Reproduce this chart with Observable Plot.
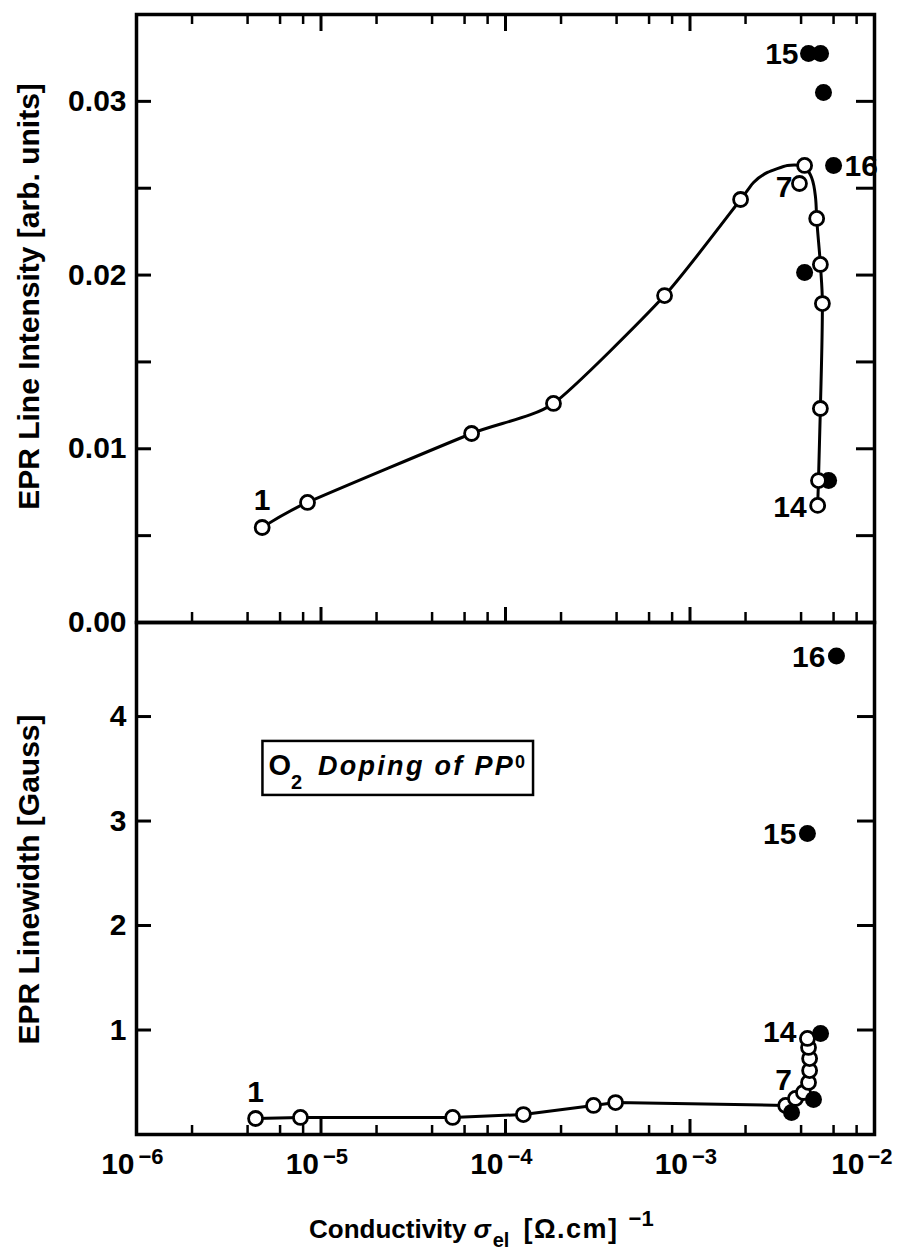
<!DOCTYPE html>
<html><head><meta charset="utf-8">
<script src="https://cdn.jsdelivr.net/npm/d3@7"></script>
<script src="https://cdn.jsdelivr.net/npm/@observablehq/plot@0.6"></script>
<style>
body{margin:0;background:#fff;}
#wrap{position:relative;width:899px;height:1258px;overflow:hidden;font-family:"Liberation Sans",Arial,sans-serif;background:#fff;}
#wrap svg{position:absolute;left:0;overflow:visible;}
#xtitle{position:absolute;left:309px;top:1214px;line-height:30px;text-align:left;font-size:26px;font-weight:bold;color:#000;white-space:nowrap;}
#xtitle i{margin-left:7px;}
#xtitle .sub{position:relative;top:9px;font-size:20px;margin-left:2px;margin-right:14px;}
#xtitle .br{font-size:27px;letter-spacing:1.5px;}
#xtitle .sup{position:relative;top:-12px;font-size:22px;margin-left:10px;}
</style></head><body><div id="wrap"><div id="xtitle">Conductivity<i>σ</i><span class="sub">el</span><span class="br">[Ω.cm]</span><span class="sup">−1</span></div></div>
<script>
// ---------- data ----------
// Top panel: EPR line intensity, open circles 1..14
const topOpenX = [4.8e-6, 8.45e-6, 6.55e-5, 1.82e-4, 7.28e-4, 1.88e-3, 3.92e-3, 4.18e-3, 4.86e-3, 5.09e-3, 5.22e-3, 5.09e-3, 4.97e-3, 4.92e-3];
const topOpenY = [0.00547, 0.00691, 0.01088, 0.01261, 0.01882, 0.02435, 0.02527, 0.02631, 0.02326, 0.02061, 0.01836, 0.01232, 0.00817, 0.00674];
// Top panel: filled circles
const topFilledX = [4.39e-3, 5.10e-3, 5.29e-3, 6.0e-3, 4.18e-3, 5.64e-3];
const topFilledY = [0.03276, 0.03276, 0.03051, 0.02631, 0.02015, 0.00817];
// Top panel: drawn guide curve — rising branch (points 1–6, then the rounded top up to point 8)
const topRiseX = [4.8e-6, 8.45e-6, 6.55e-5, 1.82e-4, 7.28e-4, 1.88e-3, 2.21e-3, 2.63e-3, 3.37e-3, 4.18e-3];
const topRiseY = [0.00547, 0.00691, 0.01088, 0.01261, 0.01882, 0.02435, 0.02533, 0.02591, 0.02631, 0.02631];
// falling branch (from the peak down to point 14)
const topFallX = [4.18e-3, 4.56e-3, 4.79e-3, 4.86e-3, 5.09e-3, 5.22e-3, 5.09e-3, 4.97e-3, 4.92e-3];
const topFallY = [0.02631, 0.02562, 0.02447, 0.02326, 0.02061, 0.01836, 0.01232, 0.00817, 0.00674];

// Bottom panel: EPR linewidth, open circles 1..14
const botOpenX = [4.42e-6, 7.74e-6, 5.17e-5, 1.25e-4, 3.0e-4, 3.95e-4, 3.30e-3, 3.73e-3, 4.12e-3, 4.39e-3, 4.45e-3, 4.45e-3, 4.39e-3, 4.33e-3];
const botOpenY = [0.153, 0.163, 0.163, 0.191, 0.278, 0.306, 0.278, 0.345, 0.402, 0.498, 0.612, 0.727, 0.833, 0.919];
// Bottom panel: filled circles (16, 15, near 14, and two under the cluster)
const botFilledX = [6.22e-3, 4.33e-3, 5.10e-3, 3.55e-3, 4.67e-3];
const botFilledY = [4.58, 2.88, 0.967, 0.211, 0.335];

// point labels
const topLabelText = ["1", "7", "14", "15", "16"];
const botLabelText = ["1", "7", "14", "15", "16"];

// axes
const xMajor = [1e-6, 1e-5, 1e-4, 1e-3];
const xLast = [1e-2];
const xMajorInner = [1e-5, 1e-4, 1e-3];
const xExponent = ["−6", "−5", "−4", "−3"];
const xLastExponent = ["−2"];
const xMinor = [2e-6, 4e-6, 6e-6, 8e-6, 2e-5, 4e-5, 6e-5, 8e-5, 2e-4, 4e-4, 6e-4, 8e-4, 2e-3, 4e-3, 6e-3, 8e-3];
const topYTicks = [0.005, 0.01, 0.015, 0.02, 0.025, 0.03];
const topYLabelValues = [0, 0.01, 0.02, 0.03];
const topYLabelText = ["0.00", "0.01", "0.02", "0.03"];
const botYTicks = [1, 2, 3, 4];
const botYLabelText = ["1", "2", "3", "4"];
const topTitle = "EPR Line Intensity [arb. units]";
const botTitle = "EPR Linewidth [Gauss]";
const annotParts = ["O", "2", " Doping of PP", "0"];
const annotX = [5.19e-6];
const annotY = [3.53];

// ---------- rendering ----------
const FONT = '"Liberation Sans", Arial, Helvetica, sans-serif';
const ML = 136, MR = 25, FW = 899 - ML - MR;
const TOP_H = 640, TOP_MT = 14, TOP_MB = 18, TH = TOP_H - TOP_MT - TOP_MB;
const BOT_TOP = 612, BOT_H = 646, BOT_MT = 10, BOT_MB = 124, BH = BOT_H - BOT_MT - BOT_MB;

const rows = (xs, ys) => xs.map((x, i) => ({x, y: ys[i]}));
const topOpen = rows(topOpenX, topOpenY);
const topFilled = rows(topFilledX, topFilledY);
const topRise = rows(topRiseX, topRiseY);
const topFall = rows(topFallX, topFallY);
const botOpen = rows(botOpenX, botOpenY);
const botFilled = rows(botFilledX, botFilledY);

const common = {
  width: 899, marginLeft: ML, marginRight: MR,
  x: {type: "log", domain: [1e-6, 1e-2], axis: null},
  style: {fontFamily: FONT, background: "transparent", overflow: "visible", color: "black"}
};
const txt = {fontWeight: "bold", fill: "black", lineAnchor: "middle"};
const lineStyle = {x: "x", y: "y", stroke: "black", strokeWidth: 3, strokeLinejoin: "round"};

const topPlot = Plot.plot({
  ...common,
  height: TOP_H, marginTop: TOP_MT, marginBottom: TOP_MB,
  y: {domain: [0, 0.035], axis: null},
  marks: [
    Plot.tickY(topYTicks, {y: d => d, insetRight: FW - 15, strokeWidth: 3}),
    Plot.tickY(topYTicks, {y: d => d, insetLeft: FW - 18, strokeWidth: 3}),
    Plot.tickX(xMajorInner, {x: d => d, insetBottom: TH - 17, strokeWidth: 3}),
    Plot.tickX(xMinor, {x: d => d, insetBottom: TH - 10, strokeWidth: 2.5}),
    Plot.tickX(xMajorInner, {x: d => d, insetTop: TH - 15, strokeWidth: 3}),
    Plot.tickX(xMinor, {x: d => d, insetTop: TH - 10, strokeWidth: 2.5}),
    Plot.frame({stroke: "black", strokeWidth: 3.5}),
    Plot.text(topYLabelValues, {...txt, y: d => d, text: (d, i) => topYLabelText[i], frameAnchor: "left", textAnchor: "end", dx: -10, fontSize: 30}),
    Plot.text([topTitle], {...txt, text: d => d, frameAnchor: "left", textAnchor: "middle", rotate: -90, dx: -107, dy: -22, fontSize: 30}),
    Plot.line(topRise, {...lineStyle, curve: "cardinal", tension: 0.4}),
    Plot.line(topFall, {...lineStyle, curve: "monotone-y"}),
    Plot.dot(topFilled, {x: "x", y: "y", r: 8.5, fill: "black", stroke: "none"}),
    Plot.dot(topOpen, {x: "x", y: "y", r: 7, fill: "white", stroke: "black", strokeWidth: 2.8}),
    Plot.text([topOpen[0]], {...txt, x: "x", y: "y", text: () => topLabelText[0], dy: -27, fontSize: 30}),
    Plot.text([topOpen[6]], {...txt, x: "x", y: "y", text: () => topLabelText[1], textAnchor: "end", dx: -7, dy: 4, fontSize: 30}),
    Plot.text([topOpen[13]], {...txt, x: "x", y: "y", text: () => topLabelText[2], textAnchor: "end", dx: -11, dy: 2, fontSize: 30}),
    Plot.text([topFilled[0]], {...txt, x: "x", y: "y", text: () => topLabelText[3], textAnchor: "end", dx: -10, dy: 1, fontSize: 30}),
    Plot.text([topFilled[3]], {...txt, x: "x", y: "y", text: () => topLabelText[4], textAnchor: "start", dx: 11, dy: 1, fontSize: 30})
  ]
});

const botPlot = Plot.plot({
  ...common,
  height: BOT_H, marginTop: BOT_MT, marginBottom: BOT_MB,
  y: {domain: [0, 4.9], axis: null},
  marks: [
    Plot.tickY(botYTicks, {y: d => d, insetRight: FW - 15, strokeWidth: 3}),
    Plot.tickY(botYTicks, {y: d => d, insetLeft: FW - 17, strokeWidth: 3}),
    Plot.tickX(xMajorInner, {x: d => d, insetTop: BH - 15, strokeWidth: 3}),
    Plot.tickX(xMinor, {x: d => d, insetTop: BH - 9, strokeWidth: 2.5}),
    Plot.frame({stroke: "black", strokeWidth: 3.5}),
    Plot.text(botYTicks, {...txt, y: d => d, text: (d, i) => botYLabelText[i], frameAnchor: "left", textAnchor: "end", dx: -10, fontSize: 30}),
    Plot.text(xMajor, {...txt, x: d => d, text: () => "10", frameAnchor: "bottom", textAnchor: "end", dx: -2, dy: 30, fontSize: 30}),
    Plot.text(xMajor, {...txt, x: d => d, text: (d, i) => xExponent[i], frameAnchor: "bottom", textAnchor: "start", dx: 2, dy: 22, fontSize: 22}),
    Plot.text(xLast, {...txt, x: d => d, text: () => "10", frameAnchor: "bottom", textAnchor: "end", dx: -10, dy: 30, fontSize: 30}),
    Plot.text(xLast, {...txt, x: d => d, text: (d, i) => xLastExponent[i], frameAnchor: "bottom", textAnchor: "start", dx: -7, dy: 22, fontSize: 22}),
    Plot.text([botTitle], {...txt, text: d => d, frameAnchor: "left", textAnchor: "middle", rotate: -90, dx: -107, dy: 1, fontSize: 30}),
    Plot.line(botOpen, {...lineStyle}),
    Plot.dot(botOpen, {x: "x", y: "y", r: 7, fill: "white", stroke: "black", strokeWidth: 2.8}),
    Plot.dot(botFilled, {x: "x", y: "y", r: 8.5, fill: "black", stroke: "none"}),
    Plot.text([botOpen[0]], {...txt, x: "x", y: "y", text: () => botLabelText[0], dy: -26, fontSize: 30}),
    Plot.text([botOpen[6]], {...txt, x: "x", y: "y", text: () => botLabelText[1], dx: -2, dy: -25, fontSize: 30}),
    Plot.text([botOpen[13]], {...txt, x: "x", y: "y", text: () => botLabelText[2], textAnchor: "end", dx: -11, dy: -6, fontSize: 30}),
    Plot.text([botFilled[1]], {...txt, x: "x", y: "y", text: () => botLabelText[3], textAnchor: "end", dx: -11, dy: 1, fontSize: 30}),
    Plot.text([botFilled[0]], {...txt, x: "x", y: "y", text: () => botLabelText[4], textAnchor: "end", dx: -11, dy: 1, fontSize: 30}),
    Plot.text([{x: annotX[0], y: annotY[0]}], {x: "x", y: "y", text: () => annotParts.join(""), textAnchor: "start", lineAnchor: "middle", fontSize: 29, fill: "black"})
  ]
});

const wrap = document.getElementById("wrap");
topPlot.style.top = "0px";
botPlot.style.top = BOT_TOP + "px";
wrap.insertBefore(topPlot, wrap.firstChild);
wrap.insertBefore(botPlot, document.getElementById("xtitle"));

// annotation: sub/superscripts, italics and box
const joined = annotParts.join("");
const tNode = d3.select(botPlot).selectAll("text").filter(function() { return this.textContent === joined; });
if (!tNode.empty()) {
  tNode.text(null);
  tNode.append("tspan").text(annotParts[0]).attr("font-size", 29).attr("font-weight", "bold");
  tNode.append("tspan").text(annotParts[1]).attr("font-size", 20).attr("dy", 14).attr("font-weight", "bold");
  tNode.append("tspan").text(annotParts[2]).attr("font-size", 27).attr("dy", -14).attr("dx", 6)
    .attr("font-style", "italic").attr("font-weight", "bold").attr("letter-spacing", 2.3);
  tNode.append("tspan").text(annotParts[3]).attr("font-size", 18).attr("dy", -7).attr("font-weight", "bold");
  const node = tNode.node();
  const bb = node.getBBox();
  d3.select(node.parentNode).insert("rect", "text")
    .attr("transform", node.getAttribute("transform"))
    .attr("x", bb.x - 6).attr("y", bb.y - 8).attr("width", bb.width + 14).attr("height", bb.height + 10)
    .attr("fill", "none").attr("stroke", "black").attr("stroke-width", 2.5);
}
</script>
</body></html>
